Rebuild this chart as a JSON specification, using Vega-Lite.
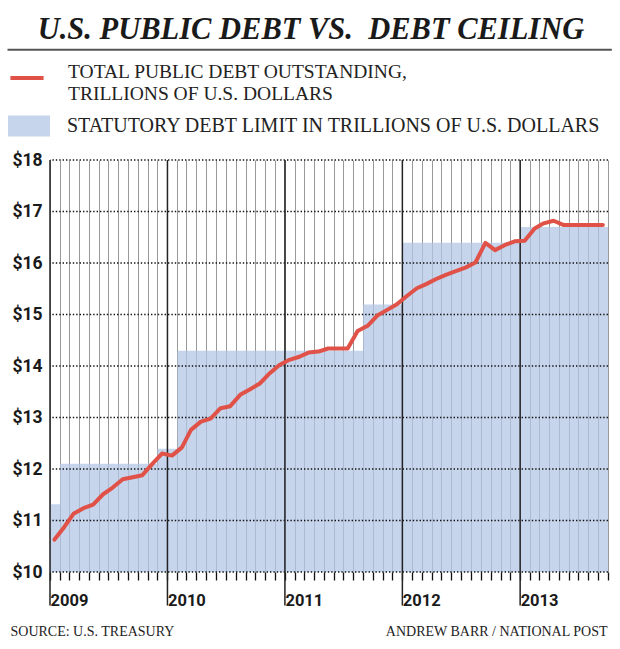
{
  "$schema": "https://vega.github.io/schema/vega-lite/v6.json",
  "autosize": "none",
  "width": 558,
  "height": 412,
  "padding": {"left": 50, "top": 160, "right": 12, "bottom": 77},
  "background": "white",
  "config": {"view": {"stroke": null}},
  "title": {
    "text": "U.S. PUBLIC DEBT VS.\u00a0 DEBT CEILING",
    "font": "Liberation Serif",
    "fontSize": 30.5,
    "fontWeight": "bold",
    "fontStyle": "italic",
    "color": "#1a1a1a",
    "anchor": "middle",
    "frame": "group",
    "dx": -18,
    "offset": 3
  },
  "datasets": {
    "debt": [
      {"date": "2009-01-15", "debt": 10.63}, {"date": "2009-02-15", "debt": 10.88}, {"date": "2009-03-15", "debt": 11.13},
      {"date": "2009-04-15", "debt": 11.24}, {"date": "2009-05-15", "debt": 11.31}, {"date": "2009-06-15", "debt": 11.51},
      {"date": "2009-07-15", "debt": 11.64}, {"date": "2009-08-15", "debt": 11.80}, {"date": "2009-09-15", "debt": 11.84},
      {"date": "2009-10-15", "debt": 11.88}, {"date": "2009-11-15", "debt": 12.10}, {"date": "2009-12-15", "debt": 12.30},
      {"date": "2010-01-15", "debt": 12.26}, {"date": "2010-02-15", "debt": 12.42}, {"date": "2010-03-15", "debt": 12.76},
      {"date": "2010-04-15", "debt": 12.92}, {"date": "2010-05-15", "debt": 12.98}, {"date": "2010-06-15", "debt": 13.18},
      {"date": "2010-07-15", "debt": 13.22}, {"date": "2010-08-15", "debt": 13.44}, {"date": "2010-09-15", "debt": 13.55},
      {"date": "2010-10-15", "debt": 13.66}, {"date": "2010-11-15", "debt": 13.86}, {"date": "2010-12-15", "debt": 14.02},
      {"date": "2011-01-15", "debt": 14.12}, {"date": "2011-02-15", "debt": 14.18}, {"date": "2011-03-15", "debt": 14.26},
      {"date": "2011-04-15", "debt": 14.28}, {"date": "2011-05-15", "debt": 14.34}, {"date": "2011-06-15", "debt": 14.34},
      {"date": "2011-07-15", "debt": 14.34}, {"date": "2011-08-15", "debt": 14.68}, {"date": "2011-09-15", "debt": 14.78},
      {"date": "2011-10-15", "debt": 14.98}, {"date": "2011-11-15", "debt": 15.09}, {"date": "2011-12-15", "debt": 15.20},
      {"date": "2012-01-15", "debt": 15.36}, {"date": "2012-02-15", "debt": 15.51}, {"date": "2012-03-15", "debt": 15.59},
      {"date": "2012-04-15", "debt": 15.69}, {"date": "2012-05-15", "debt": 15.77}, {"date": "2012-06-15", "debt": 15.84},
      {"date": "2012-07-15", "debt": 15.91}, {"date": "2012-08-15", "debt": 16.01}, {"date": "2012-09-15", "debt": 16.39},
      {"date": "2012-10-15", "debt": 16.25}, {"date": "2012-11-15", "debt": 16.35}, {"date": "2012-12-15", "debt": 16.42},
      {"date": "2013-01-15", "debt": 16.43}, {"date": "2013-02-15", "debt": 16.67}, {"date": "2013-03-15", "debt": 16.77},
      {"date": "2013-04-15", "debt": 16.82}, {"date": "2013-05-15", "debt": 16.74}, {"date": "2013-06-15", "debt": 16.74},
      {"date": "2013-07-15", "debt": 16.74}, {"date": "2013-08-15", "debt": 16.74}, {"date": "2013-09-15", "debt": 16.74}
    ],
    "limit": [
      {"date": "2009-01-01", "limit": 11.315},
      {"date": "2009-02-01", "limit": 12.104},
      {"date": "2009-12-01", "limit": 12.394},
      {"date": "2010-02-01", "limit": 14.294},
      {"date": "2011-09-01", "limit": 15.194},
      {"date": "2012-01-01", "limit": 16.394},
      {"date": "2013-01-01", "limit": 16.699},
      {"date": "2013-10-01", "limit": 16.699}
    ],
    "years": [
      {"date": "2009-01-01"}, {"date": "2010-01-01"}, {"date": "2011-01-01"}, {"date": "2012-01-01"}, {"date": "2013-01-01"}
    ],
    "levels": [
      {"level": 10}, {"level": 11}, {"level": 12}, {"level": 13}, {"level": 14},
      {"level": 15}, {"level": 16}, {"level": 17}, {"level": 18}
    ]
  },
  "layer": [
    {
      "data": {"name": "limit"},
      "mark": {"type": "area", "interpolate": "step-after", "opacity": 0.75},
      "encoding": {
        "x": {
          "field": "date",
          "type": "temporal",
          "scale": {"type": "utc", "domain": [{"year": 2009, "month": 1, "date": 1, "utc": true}, {"year": 2013, "month": 10, "date": 1, "utc": true}]},
          "axis": {
            "tickCount": {"interval": "month", "step": 1},
            "grid": true,
            "gridColor": "#999999",
            "gridWidth": 1,
            "domain": false,
            "ticks": true,
            "tickColor": "#111111",
            "tickWidth": 1.3,
            "tickSize": 8,
            "labelExpr": "utcmonth(datum.value) == 0 ? utcFormat(datum.value, '%Y') : ''",
            "labelAlign": "left",
            "labelBaseline": "alphabetic",
            "labelDx": 5,
            "labelPadding": 25,
            "labelOverlap": false,
            "labelBound": false,
            "labelFlush": false,
            "labelFont": "Roboto",
            "labelFontSize": 16.5,
            "labelFontWeight": "bold",
            "labelColor": "#1a1a1a",
            "title": "SOURCE: U.S. TREASURY",
            "titleFont": "Liberation Serif",
            "titleFontSize": 14,
            "titleFontWeight": "normal",
            "titleColor": "#222222",
            "titleAlign": "left",
            "titleAnchor": "start",
            "titleBaseline": "alphabetic",
            "titleX": -40,
            "titleY": 63
          }
        },
        "y": {
          "field": "limit",
          "type": "quantitative",
          "scale": {"domain": [10, 18], "zero": false, "nice": false},
          "axis": {
            "values": [10, 11, 12, 13, 14, 15, 16, 17, 18],
            "grid": false,
            "domain": false,
            "ticks": false,
            "labelExpr": "'$' + datum.value",
            "labelPadding": 8,
            "labelFont": "Roboto",
            "labelFontSize": 17.5,
            "labelFontWeight": "bold",
            "labelColor": "#1a1a1a",
            "title": "ANDREW BARR / NATIONAL POST",
            "titleAngle": 0,
            "titleFont": "Liberation Serif",
            "titleFontSize": 14,
            "titleFontWeight": "normal",
            "titleColor": "#222222",
            "titleAlign": "right",
            "titleBaseline": "alphabetic",
            "titleX": 557,
            "titleY": 475
          }
        },
        "y2": {"datum": 10},
        "fill": {
          "datum": "STATUTORY DEBT LIMIT IN TRILLIONS OF U.S. DOLLARS",
          "type": "nominal",
          "scale": {"range": ["#b3c6e6"]},
          "legend": {
            "orient": "none",
            "legendX": -42,
            "legendY": -55,
            "padding": 0,
            "title": null,
            "symbolType": "M-1,-0.5H1V0.5H-1Z",
            "symbolSize": 1764,
            "symbolStrokeWidth": 0,
            "symbolOpacity": 0.75,
            "labelOffset": 17,
            "labelLimit": 700,
            "labelFont": "Liberation Serif",
            "labelFontSize": 20,
            "labelColor": "#222222"
          }
        }
      }
    },
    {
      "data": {"name": "levels"},
      "mark": {"type": "rule", "color": "#111111", "strokeWidth": 1.6, "strokeDash": [1.4, 2.0]},
      "encoding": {"y": {"field": "level", "type": "quantitative"}}
    },
    {
      "data": {"name": "years"},
      "mark": {"type": "rule", "color": "#222222", "strokeWidth": 1.5},
      "encoding": {
        "x": {"field": "date", "type": "temporal"},
        "y": {"datum": 18},
        "y2": {"datum": 9.35}
      }
    },
    {
      "data": {"values": [{"start": "2008-08-22", "end": "2013-10-13", "at": 20.14}]},
      "mark": {"type": "rule", "color": "#555555", "strokeWidth": 2},
      "encoding": {
        "x": {"field": "start", "type": "temporal"},
        "x2": {"field": "end"},
        "y": {"field": "at", "type": "quantitative"}
      }
    },
    {
      "data": {"name": "debt"},
      "mark": {"type": "line", "strokeWidth": 4, "strokeJoin": "round", "strokeCap": "round"},
      "encoding": {
        "x": {"field": "date", "type": "temporal"},
        "y": {"field": "debt", "type": "quantitative"},
        "stroke": {
          "datum": "TOTAL PUBLIC DEBT OUTSTANDING,|TRILLIONS OF U.S. DOLLARS",
          "type": "nominal",
          "scale": {"range": ["#e05248"]},
          "legend": {
            "orient": "none",
            "legendX": -42,
            "legendY": -101,
            "padding": 0,
            "title": null,
            "symbolType": "stroke",
            "symbolSize": 1100,
            "symbolStrokeWidth": 4,
            "labelOffset": 22,
            "labelLimit": 700,
            "labelBaseline": "alphabetic",
            "labelExpr": "split(datum.label, '|')",
            "labelFont": "Liberation Serif",
            "labelFontSize": 19.5,
            "labelColor": "#222222"
          }
        }
      }
    }
  ]
}
